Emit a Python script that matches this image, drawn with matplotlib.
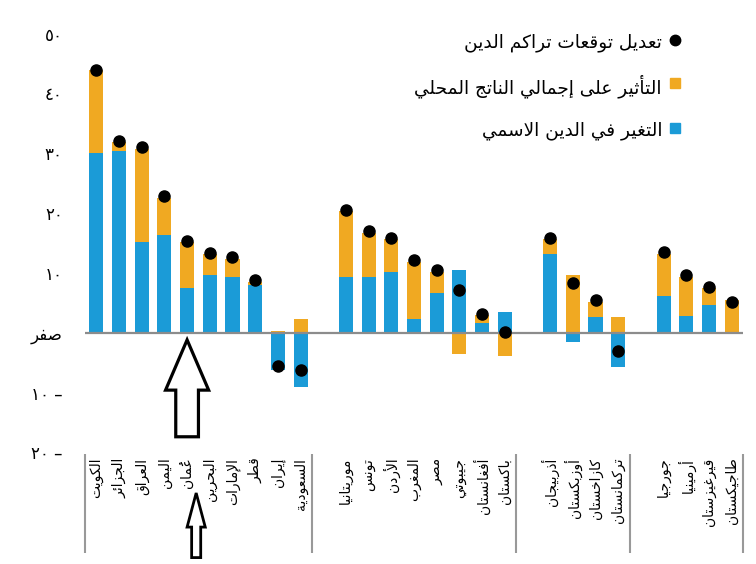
import numpy as np
import matplotlib.pyplot as plt
from matplotlib.patches import Polygon, Rectangle
from matplotlib.lines import Line2D

plt.rcParams['font.family'] = ['DejaVu Sans']

# ---- data ----
group_sizes = [10, 8, 4, 4]
countries = ['الكويت', 'الجزائر', 'العراق', 'اليمن', 'عُمان', 'البحرين', 'الإمارات', 'قطر', 'إيران', 'السعودية',
             'موريتانيا', 'تونس', 'الأردن', 'المغرب', 'مصر', 'جيبوتي', 'أفغانستان', 'باكستان',
             'أذربيجان', 'أوزبكستان', 'كازاخستان', 'تركمانستان',
             'جورجيا', 'أرمينيا', 'قيرغيزستان', 'طاجيكستان']
nominal_debt = [30.0, 30.3, 15.2, 16.4, 7.4, 9.7, 9.3, 7.9, -6.2, -9.0,
                9.3, 9.3, 10.2, 2.3, 6.7, 10.5, 1.6, 3.5,
                13.2, -1.6, 2.7, -5.8,
                6.2, 2.8, 4.6, 0.0]
gdp_effect = [13.9, 1.6, 15.5, 6.1, 7.7, 3.5, 3.1, 0.6, 0.3, 2.3,
              11.0, 7.4, 5.4, 9.6, 3.5, -3.5, 1.3, -3.9,
              2.4, 9.6, 2.4, 2.7,
              7.0, 6.5, 2.8, 5.4]
debt_revision = [44.0, 32.1, 31.0, 22.8, 15.4, 13.4, 12.7, 8.8, -5.5, -6.3,
                 20.5, 17.0, 15.9, 12.2, 10.5, 7.1, 3.1, 0.2,
                 15.9, 8.3, 5.4, -3.0,
                 13.5, 9.6, 7.7, 5.1]
yticks = [50, 40, 30, 20, 10, 0, -10, -20]
# digits already in visual order; only the word gets shaped
ytick_labels = ['٥٠', '٤٠', '٣٠', '٢٠', '١٠', 'صفر', '١٠ –', '٢٠ –']
legend_labels = ['تعديل توقعات تراكم الدين', 'التأثير على إجمالي الناتج المحلي', 'التغير في الدين الاسمي']

BLUE = '#1b9bd7'
ORANGE = '#f0a922'

# ---- tiny arabic shaper (matplotlib has no bidi / joining) ----
FORMS = {
    'ء': ('\ufe80',), 'آ': ('\ufe81', '\ufe82'), 'أ': ('\ufe83', '\ufe84'), 'ؤ': ('\ufe85', '\ufe86'),
    'إ': ('\ufe87', '\ufe88'), 'ئ': ('\ufe89', '\ufe8a', '\ufe8b', '\ufe8c'), 'ا': ('\ufe8d', '\ufe8e'),
    'ب': ('\ufe8f', '\ufe90', '\ufe91', '\ufe92'), 'ة': ('\ufe93', '\ufe94'),
    'ت': ('\ufe95', '\ufe96', '\ufe97', '\ufe98'), 'ث': ('\ufe99', '\ufe9a', '\ufe9b', '\ufe9c'),
    'ج': ('\ufe9d', '\ufe9e', '\ufe9f', '\ufea0'), 'ح': ('\ufea1', '\ufea2', '\ufea3', '\ufea4'),
    'خ': ('\ufea5', '\ufea6', '\ufea7', '\ufea8'), 'د': ('\ufea9', '\ufeaa'), 'ذ': ('\ufeab', '\ufeac'),
    'ر': ('\ufead', '\ufeae'), 'ز': ('\ufeaf', '\ufeb0'),
    'س': ('\ufeb1', '\ufeb2', '\ufeb3', '\ufeb4'), 'ش': ('\ufeb5', '\ufeb6', '\ufeb7', '\ufeb8'),
    'ص': ('\ufeb9', '\ufeba', '\ufebb', '\ufebc'), 'ض': ('\ufebd', '\ufebe', '\ufebf', '\ufec0'),
    'ط': ('\ufec1', '\ufec2', '\ufec3', '\ufec4'), 'ظ': ('\ufec5', '\ufec6', '\ufec7', '\ufec8'),
    'ع': ('\ufec9', '\ufeca', '\ufecb', '\ufecc'), 'غ': ('\ufecd', '\ufece', '\ufecf', '\ufed0'),
    'ف': ('\ufed1', '\ufed2', '\ufed3', '\ufed4'), 'ق': ('\ufed5', '\ufed6', '\ufed7', '\ufed8'),
    'ك': ('\ufed9', '\ufeda', '\ufedb', '\ufedc'), 'ل': ('\ufedd', '\ufede', '\ufedf', '\ufee0'),
    'م': ('\ufee1', '\ufee2', '\ufee3', '\ufee4'), 'ن': ('\ufee5', '\ufee6', '\ufee7', '\ufee8'),
    'ه': ('\ufee9', '\ufeea', '\ufeeb', '\ufeec'), 'و': ('\ufeed', '\ufeee'), 'ى': ('\ufeef', '\ufef0'),
    'ي': ('\ufef1', '\ufef2', '\ufef3', '\ufef4'),
}
LAM_ALEF = {'آ': ('\ufef5', '\ufef6'), 'أ': ('\ufef7', '\ufef8'),
            'إ': ('\ufef9', '\ufefa'), 'ا': ('\ufefb', '\ufefc')}


def is_mark(c):
    return '\u064b' <= c <= '\u0652'


def shape(text):
    if not any(ch in FORMS for ch in text):
        return text
    chars = list(text)
    n = len(chars)
    out = []
    i = 0
    while i < n:
        c = chars[i]
        if is_mark(c):
            out[-1] = c + out[-1]   # zero-width mark drawn before its base
            i += 1
            continue
        if c not in FORMS:
            out.append(c)
            i += 1
            continue
        j = i - 1
        while j >= 0 and is_mark(chars[j]):
            j -= 1
        p = chars[j] if j >= 0 else None
        k = i + 1
        while k < n and is_mark(chars[k]):
            k += 1
        nx = chars[k] if k < n else None
        f = FORMS[c]
        jp = p in FORMS and len(FORMS[p]) == 4 and len(f) > 1
        if c == 'ل' and nx in LAM_ALEF:
            out.append(LAM_ALEF[nx][1] if jp else LAM_ALEF[nx][0])
            i = k + 1
            continue
        jn = len(f) == 4 and nx in FORMS
        if jp and jn:
            g = f[3]
        elif jn:
            g = f[2]
        elif jp:
            g = f[1]
        else:
            g = f[0]
        out.append(g)
        i += 1
    return ''.join(out[::-1])


# positions: one empty slot between groups
x = []
pos = 0
for size in group_sizes:
    x.extend(range(pos, pos + size))
    pos += size + 1
x = np.array(x)
seps = [-0.5] + [x[sum(group_sizes[:g + 1]) - 1] + 0.5 for g in range(len(group_sizes))]

blue = np.array(nominal_debt)
orange = np.array(gdp_effect)
orange_bottom = np.where(np.sign(orange) == np.sign(blue), blue, 0)

W, H = 756, 564
fig = plt.figure(figsize=(W / 100, H / 100), dpi=100)
ax = fig.add_axes([85 / W, (H - 554) / H, (743 - 85) / W, (554 - 21.7) / H])
ax.set_xlim(-0.5, 28.5)
ax.set_ylim(-37, 52)

ax.bar(x, blue, width=0.62, color=BLUE, zorder=2)
ax.bar(x, orange, bottom=orange_bottom, width=0.62, color=ORANGE, zorder=2)
ax.plot(x, debt_revision, 'o', color='black', ms=8, zorder=4)
ax.axhline(0, color='#8c8c8c', lw=1.6, zorder=3)

ax.vlines(seps, -36.8, -20.3, color='#999999', lw=1.5, clip_on=False)
for xi, name in zip(x, countries):
    ax.text(xi, -20.9, shape(name), rotation=90, ha='center', va='top', fontsize=10)

ax.set_xticks([])
ax.set_yticks(yticks)
ax.set_yticklabels([shape(t) for t in ytick_labels])
ax.tick_params(axis='y', length=0, pad=16, labelsize=12)
for s in ax.spines.values():
    s.set_visible(False)

# arrows pointing at Oman
def arrow(xc, tip, base, bottom, hw, sw, lw):
    pts = [(xc, tip), (xc + hw, base), (xc + sw, base), (xc + sw, bottom),
           (xc - sw, bottom), (xc - sw, base), (xc - hw, base)]
    ax.add_patch(Polygon(pts, closed=True, facecolor='white', edgecolor='black',
                         lw=lw, joinstyle='miter', clip_on=False, zorder=5))

arrow(x[4], -1.2, -9.6, -17.4, 0.95, 0.5, 2.3)
arrow(x[4] + 0.4, -26.8, -32.5, -37.6, 0.4, 0.2, 2.0)

# legend (markers on the right, text right aligned)
def fp(px, py):
    return px / W, 1 - py / H

rows_y = [40, 83, 128]
fig.add_artist(Line2D([fp(675, 0)[0]], [fp(0, rows_y[0])[1]], marker='o', color='black', ms=7.5))
for (c, ry) in zip([ORANGE, BLUE], rows_y[1:]):
    fx, fy = fp(670, ry + 5)
    fig.add_artist(Rectangle((fx, fy), 10 / W, 10 / H, color=c, transform=fig.transFigure))
for lab, ry in zip(legend_labels, rows_y):
    fx, fy = fp(662, ry + 3)
    fig.text(fx, fy, shape(lab), ha='right', va='center', fontsize=13.3)

fig.savefig('out.png', dpi=100)
